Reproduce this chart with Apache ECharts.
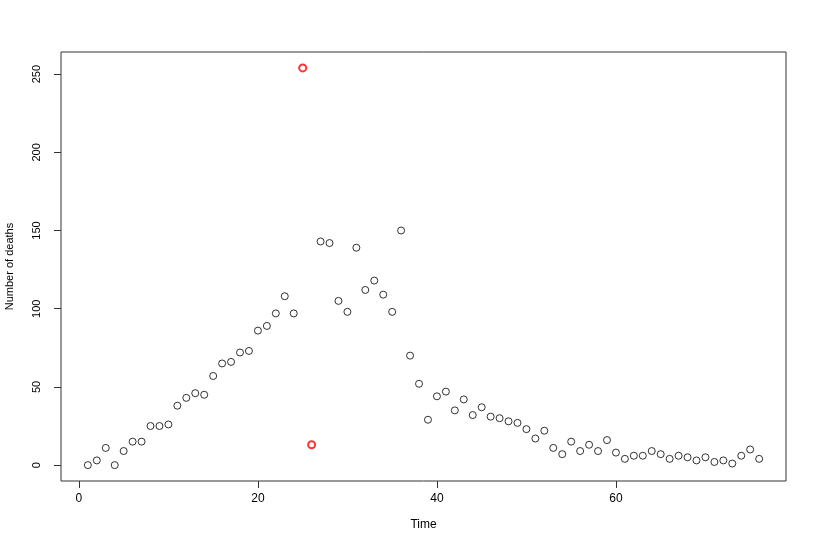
<!DOCTYPE html>
<html>
<head>
<meta charset="utf-8">
<script src="https://cdn.jsdelivr.net/npm/echarts@6/dist/echarts.min.js"></script>
<style>
  html, body { margin: 0; padding: 0; background: #fff; }
  #chart { width: 817px; height: 545px; }
</style>
</head>
<body>
<div id="chart"></div>
<script>
// deaths per time step, time runs 1..76
const times = [];
for (let t = 1; t <= 76; t++) times.push(t);
const deaths = [
  0, 3, 11, 0, 9, 15, 15, 25, 25, 26,
  38, 43, 46, 45, 57, 65, 66, 72, 73, 86,
  89, 97, 108, 97, 254, 13, 143, 142, 105, 98,
  139, 112, 118, 109, 98, 150, 70, 52, 29, 44,
  47, 35, 42, 32, 37, 31, 30, 28, 27, 23,
  17, 22, 11, 7, 15, 9, 13, 9, 16, 8,
  4, 6, 6, 9, 7, 4, 6, 5, 3, 5,
  2, 3, 1, 6, 10, 4
];
// the two outliers drawn in red
const redTimes = [25, 26];
const xTicks = [0, 20, 40, 60];
const yTicks = [0, 50, 100, 150, 200, 250];

const blackPts = [];
const redPts = [];
times.forEach((t, i) => {
  if (redTimes.includes(t)) redPts.push([t, deaths[i]]);
  else blackPts.push([t, deaths[i]]);
});

const chart = echarts.init(document.getElementById('chart'));
const font = 'Liberation Sans, Arial, sans-serif';

chart.setOption({
  animation: false,
  backgroundColor: '#fff',
  grid: {
    left: 61, top: 52, width: 725, height: 429,
    containLabel: false,
    outerBoundsMode: 'none',
    show: true, borderColor: '#333', borderWidth: 1, backgroundColor: 'transparent'
  },
  xAxis: {
    type: 'value',
    min: -2, max: 79,
    name: 'Time',
    nameLocation: 'middle',
    nameGap: 38,
    nameTextStyle: { color: '#000', fontSize: 12, fontFamily: font },
    axisLine: { show: false, onZero: false },
    axisTick: { show: true, inside: false, length: 7, customValues: xTicks, lineStyle: { color: '#333' } },
    axisLabel: { customValues: xTicks, color: '#000', fontSize: 12, fontFamily: font, margin: 12 },
    splitLine: { show: false }
  },
  yAxis: {
    type: 'value',
    min: -10.16, max: 264.16,
    name: 'Number of deaths',
    nameLocation: 'middle',
    nameGap: 46,
    nameRotate: 90,
    nameTextStyle: { color: '#000', fontSize: 11, fontFamily: font },
    axisLine: { show: false, onZero: false },
    axisTick: { show: true, inside: false, length: 7, customValues: yTicks, lineStyle: { color: '#333' } },
    axisLabel: { customValues: yTicks, rotate: 90, color: '#000', fontSize: 11, fontFamily: font, margin: 19 },
    splitLine: { show: false }
  },
  series: [
    {
      type: 'scatter',
      data: blackPts,
      symbol: 'circle',
      symbolSize: 7,
      itemStyle: { color: '#fff', borderColor: '#000', borderWidth: 1 }
    },
    {
      type: 'scatter',
      data: redPts,
      symbol: 'circle',
      symbolSize: 7,
      itemStyle: { color: '#fff', borderColor: '#ff0000', borderWidth: 2 }
    }
  ]
});
</script>
</body>
</html>
